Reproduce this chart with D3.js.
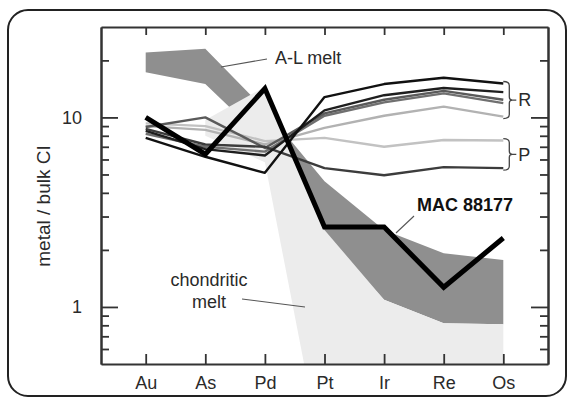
<!DOCTYPE html>
<html><head><meta charset="utf-8">
<script src="https://cdn.jsdelivr.net/npm/d3@7"></script>
<style>
html,body{margin:0;padding:0;background:#fff;}
svg{display:block;font-family:"Liberation Sans",Arial,Helvetica,sans-serif;}
</style></head>
<body>
<svg id="chart" width="572" height="400"></svg>
<script>
// ---- data ----
const elements = ["Au","As","Pd","Pt","Ir","Re","Os"];
const macValues = [10, 6.4, 14.2, 2.64, 2.64, 1.27, 2.31];
const alTop    = [22, 23, 11, 4.6, 2.55, 1.92, 1.77];
const alBottom = [17.3, 15, 7.5, 2.4, 1.09, 0.82, 0.81];
const chondTop    = [null, 9.7, 14.5, 2.55, 1.09, 0.82, 0.81];
const chondBottom = [null, 8.0, 5.8, 0.14, 0.1, 0.1, 0.1];
const r1 = [7.8, 6.2, 5.1, 12.8, 15.0, 16.2, 15.1];
const r2 = [8.5, 6.8, 6.3, 10.9, 13.1, 14.3, 13.6];
const r3 = [8.9, 10.0, 6.9, 10.5, 12.4, 13.8, 12.4];
const r4 = [8.2, 7.0, 6.6, 10.2, 12.0, 13.4, 11.9];
const r5 = [9.0, 8.6, 7.2, 8.8, 10.2, 11.4, 10.1];
const p1 = [9.3, 9.0, 7.5, 7.8, 7.0, 7.6, 7.55];
const p2 = [8.7, 7.2, 7.0, 5.4, 4.95, 5.47, 5.4];
const yMajorTicks = [1, 10];
const yMinorTicks = [0.6, 0.7, 0.8, 0.9, 2, 3, 4, 5, 6, 7, 8, 9, 20];
const yDomain = [0.5, 30];

// ---- layout ----
const svg = d3.select("#chart");
const L = 101, R = 548, T = 27, B = 364;
const x = d3.scalePoint().domain(elements).range([L, R]).padding(0.75);
const y = d3.scaleLog().domain(yDomain).range([B, T]);
const ink = "#2a2a2a";

svg.append("defs").append("clipPath").attr("id","plotclip")
  .append("rect").attr("x",L).attr("y",T).attr("width",R-L).attr("height",B-T);

const plot = svg.append("g").attr("clip-path","url(#plotclip)");

function bandData(top, bot){
  return elements.map((e,i)=>({e, t: top[i], b: bot[i]}));
}
const area = d3.area().defined(d=>d.t!=null)
  .x(d=>x(d.e)).y0(d=>y(d.b)).y1(d=>y(d.t));

// A-L melt band
plot.append("path").datum(bandData(alTop, alBottom))
  .attr("d", area).attr("fill","#8f8f8f");
// chondritic melt band
plot.append("path").datum(bandData(chondTop, chondBottom))
  .attr("d", area).attr("fill","#ececec");

const line = d3.line().x((d,i)=>x(elements[i])).y(d=>y(d));
const series = [
  {v:p1, c:"#c2c2c2", w:2.4},
  {v:r5, c:"#b2b2b2", w:2.4},
  {v:r4, c:"#707070", w:2.4},
  {v:r3, c:"#5a5a5a", w:2.4},
  {v:p2, c:"#3c3c3c", w:2.4},
  {v:r2, c:"#1e1e1e", w:2.4},
  {v:r1, c:"#111", w:2.4}
];
series.forEach(s=>{
  plot.append("path").datum(s.v).attr("d", line)
    .attr("fill","none").attr("stroke", s.c).attr("stroke-width", s.w)
    .attr("stroke-linejoin","round");
});
// MAC 88177
plot.append("path").datum(macValues).attr("d", line)
  .attr("fill","none").attr("stroke","#000").attr("stroke-width",5)
  .attr("stroke-linejoin","miter");

// ---- brackets R / P ----
function bracket(vals, label){
  const ends = vals.map(v=>y(v[v.length-1]));
  const y0 = d3.min(ends) - 2, y1 = d3.max(ends) + 2, ym = (y0+y1)/2;
  const x0 = x("Os") + 0, xb = x0 + 6, xt = x0 + 13;
  const p = `M${x0},${y0} Q${xb},${y0} ${xb},${y0+4} L${xb},${ym-3} Q${xb},${ym} ${xb+3},${ym} L${xt},${ym}` +
            ` M${xb+3},${ym} Q${xb},${ym} ${xb},${ym+3} L${xb},${y1-4} Q${xb},${y1} ${x0},${y1}`;
  svg.append("path").attr("d",p).attr("fill","none").attr("stroke","#444").attr("stroke-width",1.3);
  svg.append("text").attr("x", xt+2).attr("y", ym).attr("dy","0.35em")
    .attr("font-size",18).attr("fill",ink).text(label);
}
bracket([r1,r2,r3,r4,r5], "R");
bracket([p1,p2], "P");

// ---- annotations ----
svg.append("line").attr("x1",221).attr("y1",67).attr("x2",267).attr("y2",59)
  .attr("stroke","#555").attr("stroke-width",1.1);
svg.append("text").attr("x",275).attr("y",58).attr("dy","0.35em")
  .attr("font-size",18).attr("fill",ink).text("A-L melt");

svg.append("line").attr("x1",414).attr("y1",216).attr("x2",396).attr("y2",233)
  .attr("stroke","#555").attr("stroke-width",1.1);
svg.append("text").attr("x",417).attr("y",205).attr("dy","0.35em")
  .attr("font-size",18).attr("font-weight","bold").attr("fill","#111").text("MAC 88177");

svg.append("line").attr("x1",242).attr("y1",299).attr("x2",305).attr("y2",307)
  .attr("stroke","#555").attr("stroke-width",1.1);
svg.append("text").attr("x",209).attr("y",280).attr("dy","0.35em").attr("text-anchor","middle")
  .attr("font-size",18).attr("fill",ink).text("chondritic");
svg.append("text").attr("x",209).attr("y",302).attr("dy","0.35em").attr("text-anchor","middle")
  .attr("font-size",18).attr("fill",ink).text("melt");

// ---- axes ----
function styleAxis(g){
  g.selectAll("path.domain").attr("stroke","#333").attr("stroke-width",2);
  g.selectAll(".tick line").attr("stroke","#333").attr("stroke-width",1.8);
  g.selectAll(".tick text").attr("fill",ink).attr("font-size",18)
    .attr("font-family","\"Liberation Sans\",Arial,Helvetica,sans-serif");
}
// left major
svg.append("g").attr("transform",`translate(${L},0)`)
  .call(d3.axisLeft(y).tickValues(yMajorTicks).tickFormat(d3.format("d"))
    .tickSizeInner(-17).tickSizeOuter(0).tickPadding(19)).call(styleAxis);
// left minor
svg.append("g").attr("transform",`translate(${L},0)`)
  .call(d3.axisLeft(y).tickValues(yMinorTicks).tickFormat("")
    .tickSizeInner(-8).tickSizeOuter(0)).call(styleAxis);
// right major/minor
svg.append("g").attr("transform",`translate(${R},0)`)
  .call(d3.axisRight(y).tickValues(yMajorTicks).tickFormat("")
    .tickSizeInner(-17).tickSizeOuter(0)).call(styleAxis);
svg.append("g").attr("transform",`translate(${R},0)`)
  .call(d3.axisRight(y).tickValues(yMinorTicks).tickFormat("")
    .tickSizeInner(-8).tickSizeOuter(0)).call(styleAxis);
// top
svg.append("g").attr("transform",`translate(0,${T})`)
  .call(d3.axisTop(x).tickFormat("").tickSizeInner(-8).tickSizeOuter(0)).call(styleAxis);
// bottom
svg.append("g").attr("transform",`translate(0,${B})`)
  .call(d3.axisBottom(x).tickSizeInner(-10).tickSizeOuter(0).tickPadding(12)).call(styleAxis);

// y title
svg.append("text").attr("transform","translate(43,206) rotate(-90)")
  .attr("text-anchor","middle").attr("dy","0.35em")
  .attr("font-size",19).attr("fill",ink).text("metal / bulk CI");

// outer rounded frame
svg.append("rect").attr("x",8).attr("y",10).attr("width",558).attr("height",386)
  .attr("rx",20).attr("fill","none").attr("stroke","#222").attr("stroke-width",2);
</script>
</body></html>
